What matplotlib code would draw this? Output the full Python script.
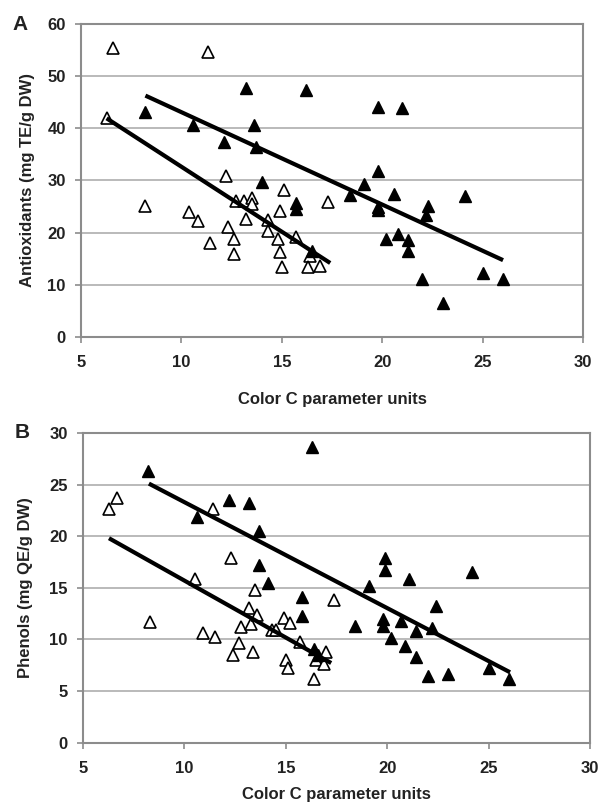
import matplotlib
matplotlib.use("Agg")
import matplotlib.pyplot as plt
import numpy as np

plt.rcParams['font.family'] = ['Liberation Sans', 'DejaVu Sans']

# ---- panel A: antioxidants ----
a_open_x = [6.6, 11.3, 6.3, 8.2, 12.2, 10.4, 10.8, 11.4, 12.3, 12.6, 12.6, 12.7, 13.1,
            13.5, 13.5, 13.2, 14.3, 14.3, 14.9, 15.1, 14.8, 14.9, 15.0, 15.7, 16.4,
            16.3, 16.9, 17.3]
a_open_y = [55.3, 54.7, 41.9, 25.2, 30.9, 24.0, 22.3, 18.0, 21.0, 18.8, 15.9, 26.1, 26.1,
            26.7, 25.5, 22.7, 22.4, 20.4, 24.2, 28.2, 18.7, 16.2, 13.5, 19.1, 15.6,
            13.5, 13.6, 25.9]
a_fill_x = [8.2, 10.6, 13.2, 13.6, 12.1, 13.7, 14.0, 15.7, 15.7, 16.2, 16.5, 19.8, 21.0,
            19.8, 19.1, 18.4, 20.6, 19.8, 19.8, 22.3, 22.2, 24.1, 20.2, 20.8, 21.3,
            21.3, 22.0, 25.0, 26.0, 23.0]
a_fill_y = [43.2, 40.6, 47.7, 40.6, 37.4, 36.5, 29.8, 25.6, 24.5, 47.3, 16.4, 44.1, 43.8,
            31.8, 29.3, 27.2, 27.5, 25.0, 24.3, 25.1, 23.4, 27.1, 18.7, 19.7, 18.5,
            16.5, 11.2, 12.2, 11.1, 6.5]
a_open_fit_x = [6.36, 17.32]
a_open_fit_y = [41.7, 14.4]
a_fill_fit_x = [8.3, 25.92]
a_fill_fit_y = [46.1, 14.9]

# ---- panel B: phenols ----
b_open_x = [6.3, 6.7, 8.3, 10.5, 11.4, 10.9, 11.5, 12.3, 12.4, 12.7, 12.8, 13.2, 13.4,
            13.3, 13.6, 13.5, 14.3, 14.5, 14.9, 15.2, 15.0, 15.1, 15.7, 16.4, 16.5,
            16.9, 17.0, 17.4]
b_open_y = [22.6, 23.7, 11.7, 15.8, 22.6, 10.6, 10.2, 17.9, 8.5, 9.6, 11.2, 13.0, 8.8,
            11.5, 12.4, 14.8, 10.9, 10.9, 12.1, 11.6, 8.0, 7.2, 9.7, 6.2, 8.0,
            7.6, 8.8, 13.8]
b_fill_x = [8.2, 10.6, 12.2, 13.2, 13.7, 13.7, 14.1, 15.8, 15.8, 16.3, 16.4, 16.6, 18.4,
            19.1, 19.9, 19.9, 21.1, 24.2, 22.4, 19.8, 19.8, 20.7, 21.4, 22.2, 20.2,
            20.9, 21.4, 22.0, 23.0, 25.0, 26.0]
b_fill_y = [26.3, 21.9, 23.5, 23.2, 20.5, 17.2, 15.5, 14.1, 12.3, 28.6, 9.1, 8.5, 11.3,
            15.2, 17.9, 16.7, 15.8, 16.5, 13.2, 12.0, 11.3, 11.8, 10.8, 11.1, 10.1,
            9.4, 8.3, 6.4, 6.6, 7.2, 6.2]
b_open_fit_x = [6.37, 17.15]
b_open_fit_y = [19.7, 7.8]
b_fill_fit_x = [8.34, 25.97]
b_fill_fit_y = [25.0, 6.9]

xticks = [5, 10, 15, 20, 25, 30]
text_col = '#222222'
grid_col = '#b4b4b4'
frame_col = '#8c8c8c'
fs = 12


def draw_panel(ax, ox, oy, fx, fy, ofx, ofy, ffx, ffy, ylim, ystep, ylabel, xpad, ypad):
    ax.set_xlim(5, 30)
    ax.set_ylim(0, ylim)
    ax.set_xticks(xticks)
    ax.set_yticks(np.arange(0, ylim + 0.1, ystep))
    ax.yaxis.grid(True, color=grid_col, lw=1.3)
    ax.set_axisbelow(True)
    for s in ax.spines.values():
        s.set_color(frame_col)
        s.set_linewidth(1.5)
    ax.tick_params(axis='x', direction='out', length=4, color=frame_col, width=1.2,
                   labelsize=fs, labelcolor=text_col, pad=9)
    ax.tick_params(axis='y', direction='out', length=4, color=frame_col, width=1.2,
                   labelsize=fs, labelcolor=text_col, pad=7)
    for lab in ax.get_xticklabels() + ax.get_yticklabels():
        lab.set_fontweight('bold')
    ax.plot(ox, oy, '^', ms=9, mfc='white', mec='black', mew=1.2, ls='none', zorder=3)
    ax.plot(fx, fy, '^', ms=9, mfc='black', mec='black', mew=1.0, ls='none', zorder=3)
    ax.plot(ofx, ofy, color='black', lw=3, zorder=4)
    ax.plot(ffx, ffy, color='black', lw=3, zorder=4)
    ax.set_xlabel('Color C parameter units', fontsize=fs, fontweight='bold',
                  color=text_col, labelpad=xpad)
    ax.set_ylabel(ylabel, fontsize=fs, fontweight='bold', color=text_col, labelpad=ypad)


fig = plt.figure(figsize=(6.02, 8.09), dpi=100)
ax1 = fig.add_axes([0.1346, 0.5834, 0.834, 0.387])
ax2 = fig.add_axes([0.1379, 0.0822, 0.842, 0.3826])

draw_panel(ax1, a_open_x, a_open_y, a_fill_x, a_fill_y, a_open_fit_x, a_open_fit_y,
           a_fill_fit_x, a_fill_fit_y, 60, 10, 'Antioxidants (mg TE/g DW)', 16, 9)
draw_panel(ax2, b_open_x, b_open_y, b_fill_x, b_fill_y, b_open_fit_x, b_open_fit_y,
           b_fill_fit_x, b_fill_fit_y, 30, 5, 'Phenols (mg QE/g DW)', 8, 12)

fig.text(0.020, 0.970, 'A', fontsize=15, fontweight='bold', color=text_col, va='center')
fig.text(0.024, 0.465, 'B', fontsize=15, fontweight='bold', color=text_col, va='center')

fig.savefig('out.png', dpi=100)
